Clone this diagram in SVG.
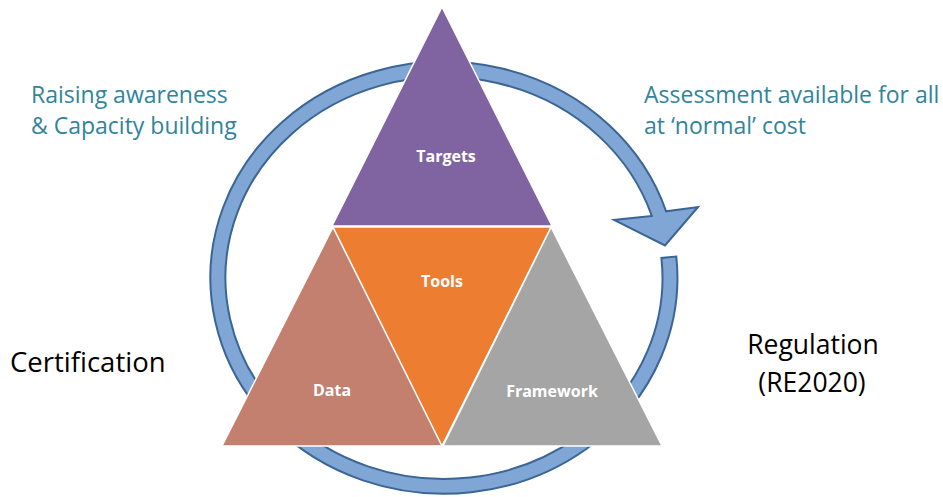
<svg xmlns="http://www.w3.org/2000/svg" width="943" height="497" viewBox="0 0 943 497">
<style>
.tri{stroke:#ffffff;stroke-width:1.5;stroke-linejoin:miter}
.lbl{font-family:"Open Sans","Liberation Sans",sans-serif;font-weight:bold;font-size:16px;fill:#ffffff;text-anchor:middle}
.teal{font-family:"Open Sans","Liberation Sans",sans-serif;font-size:23px;fill:#31849B}
.blk{font-family:"Open Sans","Liberation Sans",sans-serif;font-size:26.5px;fill:#000000}
</style>
<rect width="943" height="497" fill="#ffffff"/>
<g id="connectors">
<path id="cycle" d="M 676.3 256.6 A 233.5 216 0 1 1 666.1 211.3 L 698 207 L 665 245.5 L 614 220 L 651.8 215.9 A 218.5 201 0 1 0 661.4 258 Z" fill="#7FA6D4" stroke="#3A6594" stroke-width="2" stroke-linejoin="miter"/>
</g>
<g id="targets">
<polygon class="tri" points="442,7 552,226 332,226" fill="#8064A2"/>
<text class="lbl" x="446" y="162">Targets</text>
</g>
<g id="data">
<polygon class="tri" points="333,227 443,446 222,446" fill="#C3806F"/>
<text class="lbl" x="332" y="396">Data</text>
</g>
<g id="framework">
<polygon class="tri" points="551,227 662,446 443,446" fill="#A5A5A5"/>
<text class="lbl" x="552" y="397">Framework</text>
</g>
<g id="tools">
<polygon class="tri" points="333,227 551,227 442,446" fill="#ED7D31"/>
<text class="lbl" x="442" y="287">Tools</text>
</g>
<g id="raising">
<text class="teal" x="31" y="103">Raising awareness</text>
<text class="teal" x="31" y="134">&amp; Capacity building</text>
</g>
<g id="assessment">
<text class="teal" x="644" y="103">Assessment available for all</text>
<text class="teal" x="644" y="134">at ‘normal’ cost</text>
</g>
<g id="certification">
<text class="blk" x="10" y="372" style="font-size:27.5px">Certification</text>
</g>
<g id="regulation">
<text class="blk" x="813" y="354" text-anchor="middle">Regulation</text>
<text class="blk" x="812" y="392" text-anchor="middle">(RE2020)</text>
</g>
</svg>
